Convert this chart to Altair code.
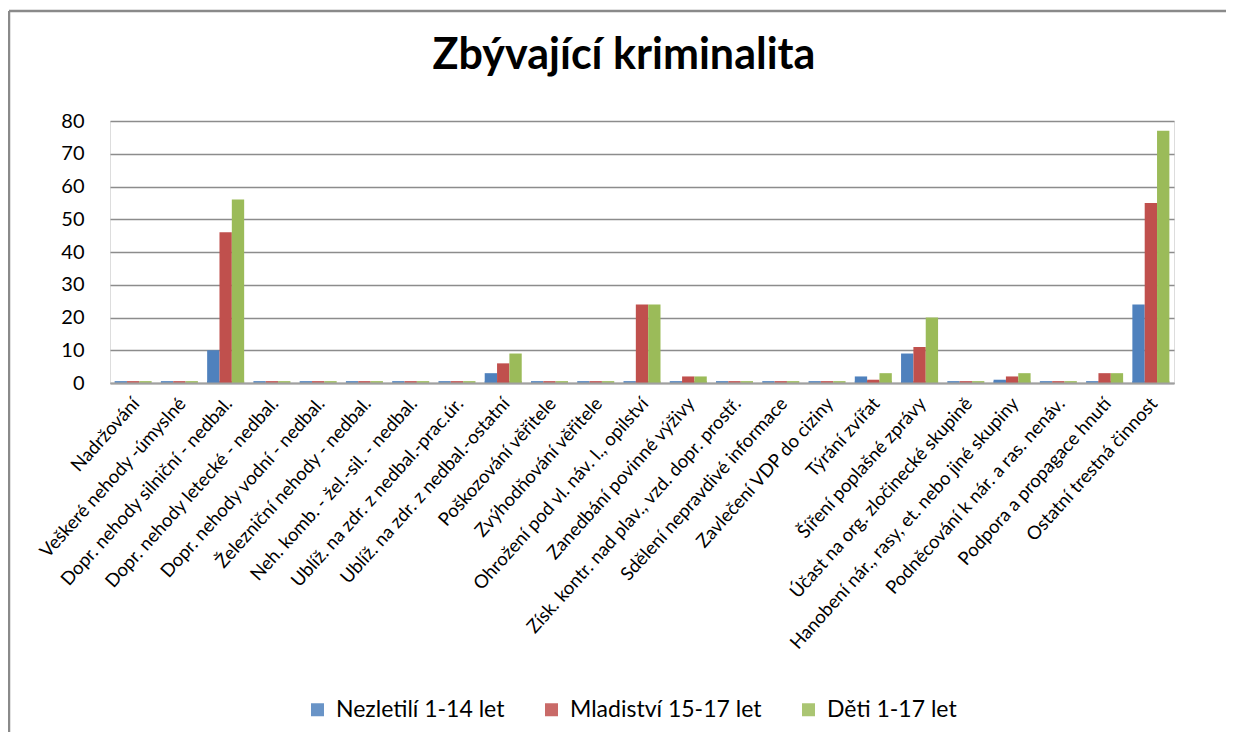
import altair as alt
import pandas as pd

categories = [
    "Nadržování",
    "Veškeré nehody -úmyslné",
    "Dopr. nehody silniční - nedbal.",
    "Dopr. nehody letecké - nedbal.",
    "Dopr. nehody vodní - nedbal.",
    "Železniční nehody - nedbal.",
    "Neh. komb. - žel.-sil. - nedbal.",
    "Ublíž. na zdr. z nedbal.-prac.úr.",
    "Ublíž. na zdr. z nedbal.-ostatní",
    "Poškozování věřitele",
    "Zvýhodňování věřitele",
    "Ohrožení pod vl. náv. l., opilství",
    "Zanedbání povinné výživy",
    "Získ. kontr. nad plav.,  vzd. dopr. prostř.",
    "Sdělení nepravdivé informace",
    "Zavlečení VDP do ciziny",
    "Týrání zvířat",
    "Šíření poplašné zprávy",
    "Účast na org. zločinecké skupině",
    "Hanobení nár., rasy, et. nebo jiné skupiny",
    "Podněcování k nár. a ras. nenáv.",
    "Podpora a propagace hnutí",
    "Ostatní trestná činnost",
]
groups = ["Nezletilí 1-14 let", "Mladiství 15-17 let", "Děti 1-17 let"]
nezletili = [0, 0, 10, 0, 0, 0, 0, 0, 3, 0, 0, 0, 0, 0, 0, 0, 2, 9, 0, 1, 0, 0, 24]
mladistvi = [0, 0, 46, 0, 0, 0, 0, 0, 6, 0, 0, 24, 2, 0, 0, 0, 1, 11, 0, 2, 0, 3, 55]
deti = [0, 0, 56, 0, 0, 0, 0, 0, 9, 0, 0, 24, 2, 0, 0, 0, 3, 20, 0, 3, 0, 3, 77]
colors = ["#4F81BD", "#C0504D", "#9BBB59"]
y_ticks = [0, 10, 20, 30, 40, 50, 60, 70, 80]
title_text = "Zbývající kriminalita"

rows = []
for series_name, values in zip(groups, [nezletili, mladistvi, deti]):
    for cat, v in zip(categories, values):
        rows.append({"kategorie": cat, "skupina": series_name, "hodnota": v})
df = pd.DataFrame(rows)

FONT = "Lato"
H = 262

x_enc = alt.X(
    "kategorie:N",
    sort=categories,
    title=None,
    scale=alt.Scale(paddingInner=0.2, paddingOuter=0.1),
    axis=alt.Axis(
        labelAngle=-48,
        labelAlign="right",
        labelBaseline="middle",
        labelFontSize=18.5,
        labelFont=FONT,
        labelColor="#000000",
        labelPadding=17,
        labelOffset=3,
        labelLimit=0,
        ticks=False,
        domain=True,
        domainColor="#a0a0a0",
        domainWidth=2,
        grid=False,
    ),
)
xoff_enc = alt.XOffset("skupina:N", sort=groups, scale=alt.Scale(paddingInner=0))
color_enc = alt.Color(
    "skupina:N",
    sort=groups,
    scale=alt.Scale(domain=groups, range=colors),
    legend=alt.Legend(
        title=None,
        orient="none",
        direction="horizontal",
        legendX=196,
        legendY=577,
        symbolType="square",
        symbolSize=169,
        symbolStrokeWidth=0,
        labelFont=FONT,
        labelFontSize=23,
        labelColor="#000000",
        labelOffset=7,
        columnPadding=35,
        padding=0,
        labelLimit=0,
    ),
)

bars = alt.Chart(df).mark_bar().encode(
    x=x_enc,
    xOffset=xoff_enc,
    y=alt.Y(
        "hodnota:Q",
        title=None,
        scale=alt.Scale(domain=[0, 80], nice=False),
        axis=alt.Axis(
            values=y_ticks,
            labelFontSize=20,
            labelFont=FONT,
            labelColor="#000000",
            labelPadding=26,
            ticks=False,
            domain=False,
            grid=True,
            gridColor="#8c8c8c",
            gridWidth=1.6,
        ),
    ),
    color=color_enc,
)

floor_strips = alt.Chart(df).mark_rect(opacity=0.85).encode(
    x=x_enc,
    xOffset=xoff_enc,
    y=alt.value(H - 2),
    y2=alt.value(H),
    color=color_enc,
)

one_row = pd.DataFrame({"a": [0]})
frame_left = alt.Chart(one_row).mark_rule(color="#8a8a8a", strokeWidth=2.5).encode(
    x=alt.value(-101), y=alt.value(-110), y2=alt.value(620)
)
frame_top = alt.Chart(one_row).mark_rule(color="#8a8a8a", strokeWidth=2.5).encode(
    x=alt.value(-101), x2=alt.value(1116), y=alt.value(-110)
)
title = alt.Chart(one_row).mark_text(
    text=title_text,
    font=FONT,
    fontSize=43,
    fontWeight="bold",
    color="#000000",
    align="center",
    baseline="alphabetic",
).encode(x=alt.value(514), y=alt.value(-52))

chart = alt.layer(frame_left, frame_top, title, floor_strips, bars).properties(
    width=1064,
    height=H,
    autosize=alt.AutoSizeParams(type="none"),
    padding={"left": 102, "top": 113, "right": 52, "bottom": 349},
).configure_view(stroke=None).configure(background="#ffffff")

chart.save("out.html", embed_options={"renderer": "svg", "actions": False})
